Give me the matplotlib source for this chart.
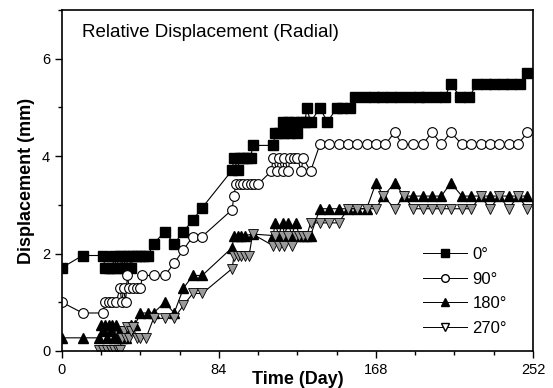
import matplotlib
matplotlib.use('Agg')
import matplotlib.pyplot as plt
from matplotlib.lines import Line2D
from matplotlib.ticker import MultipleLocator

plt.rcParams['font.family'] = ['Liberation Sans', 'DejaVu Sans']

# 0 deg
t0 = [0, 11, 22, 23, 25, 27, 28, 29, 31, 32, 33, 34, 36, 37, 38, 40, 42, 44, 46,
      49, 55, 60, 65, 70, 75, 91, 92, 94, 95, 97, 99, 101, 102,
      113, 114, 116, 118, 119, 121, 122, 124, 126, 128, 130, 131, 133, 138, 142,
      147, 150, 154,
      157, 162, 167, 171, 176, 181, 186, 191, 195, 200, 205,
      208, 213, 218, 222, 227, 231, 236, 240, 245, 249]
v0 = [1.71, 1.96, 1.96, 1.71, 1.71, 1.71, 1.96, 1.71, 1.96, 1.71, 1.96, 1.71, 1.96, 1.71, 1.96, 1.96, 1.96, 1.96, 1.96,
      2.2, 2.45, 2.2, 2.45, 2.69, 2.94, 3.71, 3.96, 3.71, 3.96, 3.96, 3.96, 3.96, 4.22,
      4.22, 4.47, 4.47, 4.71, 4.47, 4.71, 4.47, 4.71, 4.47, 4.71, 4.71, 4.98, 4.71, 4.98, 4.71,
      4.98, 4.98, 4.98,
      5.22, 5.22, 5.22, 5.22, 5.22, 5.22, 5.22, 5.22, 5.22, 5.22, 5.22,
      5.49, 5.22, 5.22, 5.49, 5.49, 5.49, 5.49, 5.49, 5.49, 5.71]

# 90 deg
t90 = [0, 11, 22, 23, 25, 27, 29, 31, 32, 33, 34, 35, 36, 38, 40, 42, 43, 49, 55,
       60, 65, 70, 75, 91, 92, 93, 95, 97, 99, 101, 103, 105,
       112, 113, 115, 116, 118, 119, 121, 122, 124, 126, 128, 129, 133,
       138, 143, 148, 153, 158, 163, 168, 173, 178, 182, 188, 193, 198, 203, 208,
       214, 219, 224, 229, 234, 239, 244, 249]
v90 = [1.0, 0.78, 0.78, 1.0, 1.0, 1.0, 1.0, 1.29, 1.0, 1.29, 1.0, 1.55, 1.29, 1.29, 1.29, 1.29, 1.55, 1.55, 1.55,
       1.8, 2.08, 2.35, 2.35, 2.9, 3.18, 3.43, 3.43, 3.43, 3.43, 3.43, 3.43, 3.43,
       3.69, 3.96, 3.69, 3.96, 3.69, 3.96, 3.69, 3.96, 3.96, 3.96, 3.69, 3.96, 3.69,
       4.24, 4.24, 4.24, 4.24, 4.24, 4.24, 4.24, 4.24, 4.49, 4.24, 4.24, 4.24, 4.49, 4.24, 4.49,
       4.24, 4.24, 4.24, 4.24, 4.24, 4.24, 4.24, 4.49]

# 180 deg
t180 = [0, 11, 20, 21, 22, 23, 24, 25, 26, 27, 28, 29, 30, 31, 32, 34, 37, 39,
        42, 46, 49, 55, 60, 65, 70, 75, 91, 92, 94, 96, 98, 102,
        113, 114, 116, 118, 119, 121, 123, 125, 127, 129, 131, 133,
        138, 143, 148, 153, 158, 163, 168, 172, 178, 183, 188, 193, 198, 203, 208,
        214, 219, 224, 229, 234, 239, 244, 249]
v180 = [0.27, 0.27, 0.27, 0.53, 0.4, 0.53, 0.27, 0.53, 0.4, 0.53, 0.27, 0.53, 0.27, 0.4, 0.27, 0.27, 0.53, 0.53,
        0.78, 0.78, 0.78, 1.0, 0.78, 1.29, 1.55, 1.55, 2.12, 2.37, 2.37, 2.37, 2.37, 2.4,
        2.37, 2.63, 2.37, 2.63, 2.37, 2.63, 2.37, 2.63, 2.37, 2.37, 2.37, 2.37,
        2.92, 2.92, 2.92, 2.92, 2.92, 2.92, 3.45, 3.18, 3.45, 3.18, 3.18, 3.18, 3.18, 3.18, 3.45,
        3.18, 3.18, 3.18, 3.18, 3.18, 3.18, 3.18, 3.18]

# 270 deg
t270 = [20, 22, 24, 26, 28, 30, 31, 32, 33, 34, 35, 36, 37, 38, 40, 42, 45,
        49, 55, 60, 65, 70, 75, 91, 92, 94, 96, 98, 100, 102,
        113, 114, 116, 118, 119, 121, 123, 125, 127, 129, 131, 133,
        138, 143, 148, 153, 158, 163, 168, 172, 178, 183, 188, 193, 198, 203, 208,
        214, 219, 224, 229, 234, 239, 244, 249]
v270 = [0.02, 0.02, 0.02, 0.02, 0.02, 0.02, 0.02, 0.27, 0.4, 0.27, 0.5, 0.27, 0.4, 0.5, 0.27, 0.27, 0.27,
        0.67, 0.67, 0.67, 0.94, 1.18, 1.18, 1.69, 1.94, 1.94, 1.94, 1.94, 1.94, 2.4,
        2.16, 2.37, 2.16, 2.37, 2.16, 2.37, 2.16, 2.37, 2.37, 2.37, 2.37, 2.63,
        2.63, 2.63, 2.63, 2.92, 2.92, 2.92, 2.92, 3.18, 2.92, 3.18, 2.92, 2.92, 2.92, 2.92, 2.92,
        2.92, 2.92, 3.18, 2.92, 3.18, 2.92, 3.18, 2.92]

labels = ['0°', '90°', '180°', '270°']

fig = plt.figure(figsize=(5.53, 3.88), dpi=100)
ax = fig.add_axes([0.1121, 0.0954, 0.8517, 0.8789])

lw = 0.8
ax.plot(t0, v0, '-s', color='black', lw=lw, ms=6.5, mfc='black', mec='black')
ax.plot(t90, v90, '-o', color='black', lw=lw, ms=7, mfc='white', mec='black', mew=0.8)
ax.plot(t180, v180, '-^', color='black', lw=lw, ms=7.5, mfc='black', mec='black')
ax.plot(t270, v270, '-v', color='black', lw=lw, ms=7.5, mfc='#9a9a9a', mec='black', mew=0.6)

ax.set_xlim(0, 252)
ax.set_ylim(0, 7)
ax.xaxis.set_major_locator(MultipleLocator(84))
ax.xaxis.set_minor_locator(MultipleLocator(21))
ax.yaxis.set_major_locator(MultipleLocator(2))
ax.yaxis.set_minor_locator(MultipleLocator(1))
ax.tick_params(which='both', direction='out', top=False, right=False, labelsize=10.5, width=1)
ax.tick_params(which='major', length=5)
ax.tick_params(which='minor', length=3)
for s in ax.spines.values():
    s.set_linewidth(1.2)

ax.set_xlabel('Time (Day)', fontsize=13, fontweight='bold')
ax.xaxis.set_label_coords(0.5, -0.058)
ax.set_ylabel('Displacement (mm)', fontsize=13, fontweight='bold', labelpad=5)

ax.text(0.042, 0.92, 'Relative Displacement (Radial)', transform=ax.transAxes,
        fontsize=13.5, ha='left', va='baseline')

handles = [
    Line2D([], [], color='black', lw=0.7, marker='s', ms=5.5, mfc='black', mec='black'),
    Line2D([], [], color='black', lw=0.7, marker='o', ms=5.5, mfc='white', mec='black'),
    Line2D([], [], color='black', lw=0.7, marker='^', ms=5.5, mfc='black', mec='black'),
    Line2D([], [], color='black', lw=0.7, marker='v', ms=5.5, mfc='white', mec='black'),
]
ax.legend(handles, labels, loc='lower left', bbox_to_anchor=(0.735, 0.0),
          frameon=False, fontsize=12, handlelength=2.6, labelspacing=0.58,
          handletextpad=0.35)

plt.savefig('out.png', dpi=100)
plt.close()
